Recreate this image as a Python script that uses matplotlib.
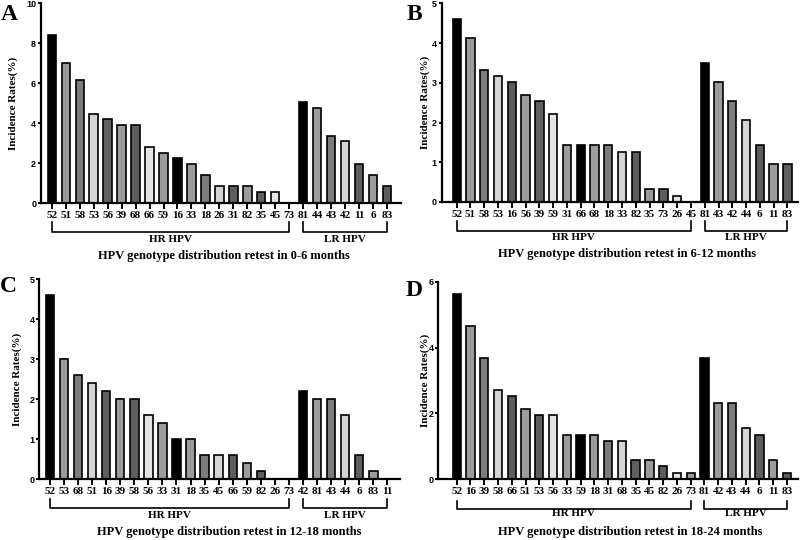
import matplotlib
matplotlib.use('Agg')
import matplotlib.pyplot as plt
import matplotlib.transforms as mtransforms

# genotypes and incidence rates (%) per follow-up window, HR first then LR
hr_a = ['52', '51', '58', '53', '56', '39', '68', '66', '59', '16', '33', '18', '26', '31', '82', '35', '45', '73']
hr_a_vals = [8.4, 7.0, 6.16, 4.48, 4.2, 3.92, 3.92, 2.8, 2.52, 2.24, 1.96, 1.4, 0.84, 0.84, 0.84, 0.56, 0.56, 0]
lr_a = ['81', '44', '43', '42', '11', '6', '83']
lr_a_vals = [5.04, 4.76, 3.36, 3.08, 1.96, 1.4, 0.84]

hr_b = ['52', '51', '58', '53', '16', '56', '39', '59', '31', '66', '68', '18', '33', '82', '35', '73', '26', '45']
hr_b_vals = [4.6, 4.13, 3.33, 3.17, 3.02, 2.7, 2.54, 2.22, 1.43, 1.43, 1.43, 1.43, 1.27, 1.27, 0.32, 0.32, 0.16, 0]
lr_b = ['81', '43', '42', '44', '6', '11', '83']
lr_b_vals = [3.49, 3.02, 2.54, 2.06, 1.43, 0.95, 0.95]

hr_c = ['52', '53', '68', '51', '16', '39', '58', '56', '33', '31', '18', '35', '45', '66', '59', '82', '26', '73']
hr_c_vals = [4.62, 3.01, 2.61, 2.41, 2.21, 2.01, 2.01, 1.61, 1.41, 1.0, 1.0, 0.6, 0.6, 0.6, 0.4, 0.2, 0, 0]
lr_c = ['42', '81', '43', '44', '6', '83', '11']
lr_c_vals = [2.21, 2.01, 2.01, 1.61, 0.6, 0.2, 0]

hr_d = ['52', '16', '39', '58', '66', '51', '53', '56', '33', '59', '18', '31', '68', '35', '45', '82', '26', '73']
hr_d_vals = [5.63, 4.66, 3.69, 2.72, 2.52, 2.14, 1.94, 1.94, 1.36, 1.36, 1.36, 1.17, 1.17, 0.58, 0.58, 0.39, 0.19, 0.19]
lr_d = ['81', '42', '43', '44', '6', '11', '83']
lr_d_vals = [3.69, 2.33, 2.33, 1.55, 1.36, 0.58, 0.19]

titles = ['HPV genotype distribution retest in 0-6 months',
          'HPV genotype distribution retest in 6-12 months',
          'HPV genotype distribution retest in 12-18 months',
          'HPV genotype distribution retest in 18-24 months']
letters = ['A', 'B', 'C', 'D']
ymaxes = [10, 5, 5, 6]
ysteps = [2, 1, 1, 2]

# grey cycle used by the original figure
cycle = ['#000000', '#9c9c9c', '#7c7c7c', '#d4d4d4', '#5e5e5e', '#9c9c9c', '#5e5e5e', '#e4e4e4', '#9c9c9c']

W, H = 800, 540
# panel layout in pixels
panels = [
    dict(l=41, r=401, t=3.3, b=203, xlim=(-0.77, 25.0), bt=222, bb=231.5, gy=239, tx=223.5, ty=256.5, lx=13, ltx=9, lty=15),
    dict(l=441.7, r=798, t=3.3, b=202, xlim=(-1.09, 24.77), bt=221, bb=231, gy=238, tx=626.5, ty=254.5, lx=425, ltx=414, lty=15),
    dict(l=39.3, r=400, t=279.3, b=479.3, xlim=(-0.76, 24.9), bt=499, bb=508, gy=515.5, tx=229.5, ty=532, lx=17, ltx=8, lty=287),
    dict(l=438.3, r=798, t=281.7, b=479.3, xlim=(-1.34, 24.8), bt=500.5, bb=508.5, gy=514, tx=629.7, ty=531.5, lx=425, ltx=414, lty=290),
]

data = [(hr_a, hr_a_vals, lr_a, lr_a_vals),
        (hr_b, hr_b_vals, lr_b, lr_b_vals),
        (hr_c, hr_c_vals, lr_c, lr_c_vals),
        (hr_d, hr_d_vals, lr_d, lr_d_vals)]

serif = ['Liberation Serif', 'DejaVu Serif']
sans = ['Liberation Sans', 'DejaVu Sans']

fig = plt.figure(figsize=(W / 100, H / 100), dpi=100)

for k in range(4):
    p = panels[k]
    hr, hr_vals, lr, lr_vals = data[k]
    ax = fig.add_axes([p['l'] / W, 1 - p['b'] / H, (p['r'] - p['l']) / W, (p['b'] - p['t']) / H])

    labels = hr + lr
    vals = hr_vals + lr_vals
    colors = [cycle[i % 9] for i in range(len(hr))] + [cycle[i % 9] for i in range(len(lr))]
    xs = list(range(len(labels)))
    ax.bar(xs, vals, width=0.6, color=colors, edgecolor='black', linewidth=1.2)

    ax.set_xlim(*p['xlim'])
    ax.set_ylim(0, ymaxes[k])
    ax.set_yticks(range(0, ymaxes[k] + 1, ysteps[k]))
    ax.set_xticks(xs)
    ax.set_xticklabels(labels, fontfamily=serif, fontweight='bold', fontsize=8)
    for lab in ax.get_yticklabels():
        lab.set_fontfamily(sans)
        lab.set_fontweight('bold')
        lab.set_fontsize(6.5)
    ax.spines['top'].set_visible(False)
    ax.spines['right'].set_visible(False)
    ax.spines['left'].set_linewidth(1.6)
    ax.spines['bottom'].set_linewidth(1.6)
    ax.tick_params(axis='x', width=1.4, length=4, pad=1.5)
    ax.tick_params(axis='y', width=1.4, length=2.5, pad=1)

    # brackets for HR / LR groups
    tr = mtransforms.blended_transform_factory(ax.transData, fig.transFigure)
    yt = 1 - p['bt'] / H
    yb = 1 - p['bb'] / H
    for a, b_, name in [(0, len(hr) - 1, 'HR HPV'), (len(hr), len(labels) - 1, 'LR HPV')]:
        ax.plot([a, a, b_, b_], [yt, yb, yb, yt], transform=tr, color='black',
                linewidth=1.2, clip_on=False)
        ax.text((a + b_) / 2, 1 - p['gy'] / H, name, transform=tr, ha='center', va='center',
                fontfamily=serif, fontweight='bold', fontsize=8)

    fig.text(p['tx'] / W, 1 - p['ty'] / H, titles[k], ha='center', va='center',
             fontfamily=serif, fontweight='bold', fontsize=9)
    fig.text(p['lx'] / W, 1 - (p['t'] + p['b']) / 2 / H, 'Incidence Rates(%)', rotation=90,
             ha='center', va='center', fontfamily=serif, fontweight='bold', fontsize=8)
    fig.text(p['ltx'] / W, 1 - p['lty'] / H, letters[k], ha='center', va='center',
             fontfamily=serif, fontweight='bold', fontsize=17)

fig.savefig('out.png', dpi=100)
